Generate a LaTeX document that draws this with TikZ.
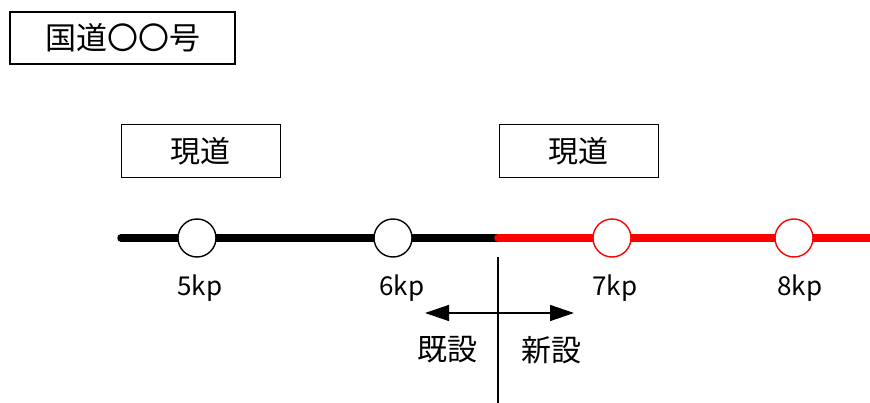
\documentclass[tikz,border=0pt]{standalone}
\usepackage{fontspec}
\setmainfont{Noto Sans CJK JP}
\usetikzlibrary{arrows.meta}
\begin{document}
\begin{tikzpicture}[x=1pt,y=-1pt,
  labelbox/.style={draw=black,line width=1pt,minimum width=159pt,minimum height=53pt,inner sep=0pt,font=\fontsize{30}{32}\selectfont},
  kpcircle/.style={circle,draw=#1,fill=white,line width=1.4pt,minimum size=38pt,inner sep=0pt},
  kplabel/.style={font=\fontsize{26}{28}\selectfont,inner sep=0pt},
  sidelabel/.style={font=\fontsize{30}{32}\selectfont,inner sep=0pt},
  road/.style={line width=7.5pt}]
\useasboundingbox (0,0) rectangle (870,403);
\node[draw=black,line width=1.2pt,minimum width=225pt,minimum height=52pt,inner sep=0pt,font=\fontsize{31}{34}\selectfont] (title) at (122.5,38) {国道〇〇号};
\node[labelbox] (gendo1) at (200.5,151.5) {現道};
\node[labelbox] (gendo2) at (578.5,151.5) {現道};
\coordinate (start) at (121,238);
\coordinate (mid) at (498,238);
\coordinate (stop) at (874,238);
\draw[road,black,line cap=round] (start) -- (mid);
\draw[road,red,line cap=round] (mid) -- (stop);
\node[kpcircle=black] (c5) at (197,238) {};
\node[kpcircle=black] (c6) at (393,238) {};
\node[kpcircle=red] (c7) at (612,238) {};
\node[kpcircle=red] (c8) at (794,238) {};
\node[kplabel] (l5) at (200,288) {5kp};
\node[kplabel] (l6) at (402,288) {6kp};
\node[kplabel] (l7) at (615,288) {7kp};
\node[kplabel] (l8) at (800,288) {8kp};
\coordinate (vtop) at (498,257);
\coordinate (vbot) at (498,403);
\draw[line width=1.4pt] (vtop) -- (vbot);
\coordinate (aleft) at (425,313);
\coordinate (aright) at (574,313);
\draw[line width=1.4pt,{Triangle[length=24pt,width=16pt]}-{Triangle[length=24pt,width=16pt]}] (aleft) -- (aright);
\node[sidelabel] (kisetsu) at (447,350) {既設};
\node[sidelabel] (shinsetsu) at (551,350) {新設};
\end{tikzpicture}
\end{document}
